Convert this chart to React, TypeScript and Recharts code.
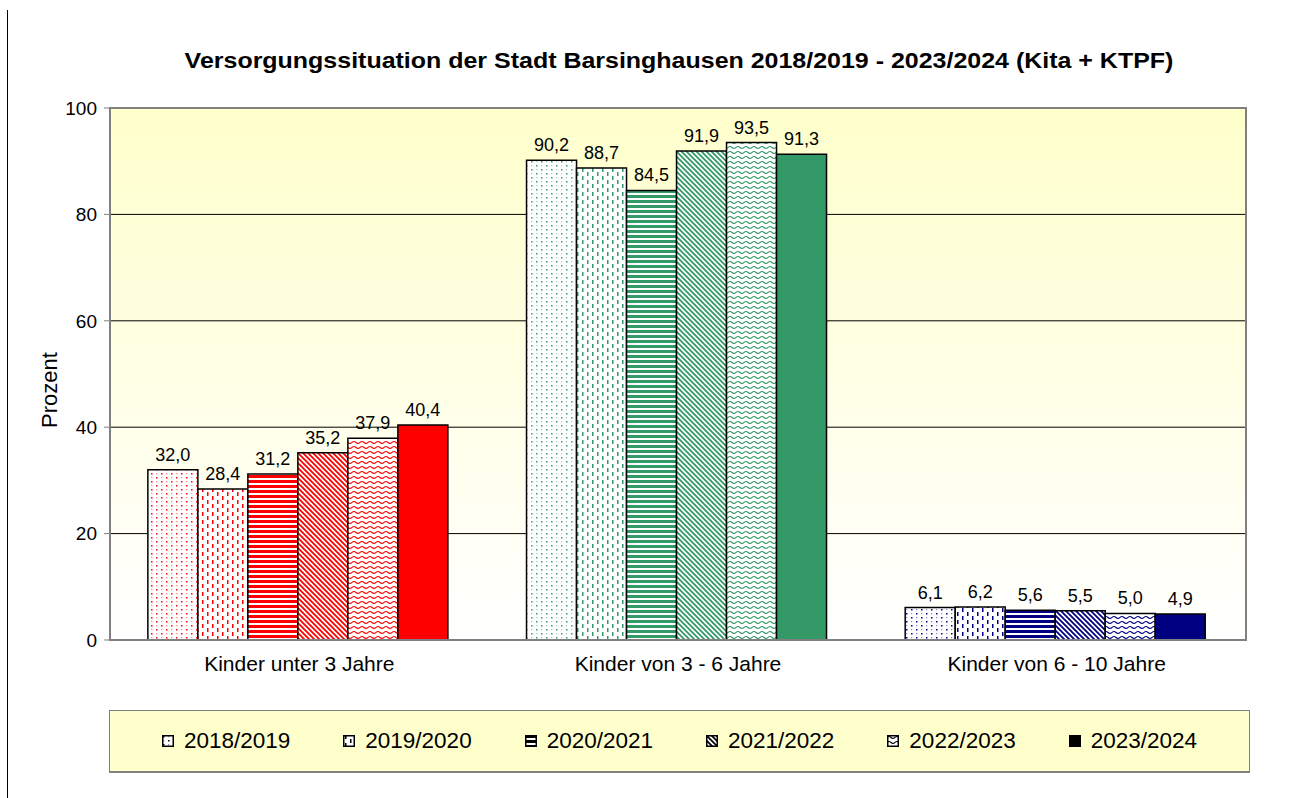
import { Bar, BarChart, CartesianGrid, Cell, LabelList, ReferenceArea, XAxis, YAxis } from "recharts";

const years = ["2018/2019", "2019/2020", "2020/2021", "2021/2022", "2022/2023", "2023/2024"];
const groups = ["Kinder unter 3 Jahre", "Kinder von 3 - 6 Jahre", "Kinder von 6 - 10 Jahre"];
const under3 = [32.0, 28.4, 31.2, 35.2, 37.9, 40.4];
const from3to6 = [90.2, 88.7, 84.5, 91.9, 93.5, 91.3];
const from6to10 = [6.1, 6.2, 5.6, 5.5, 5.0, 4.9];
const yTicks = [0, 20, 40, 60, 80, 100];

// one colour per age group, one fill pattern per school year
const groupColors = ["#ff0000", "#339966", "#000080"];
const yearPatterns = ["dots", "dashes", "hlines", "diag", "waves", "solid"];

const values = [under3, from3to6, from6to10];
const data = groups.map((name, i) => {
  const row: Record<string, string | number> = { name };
  years.forEach((_, j) => {
    row[`s${j}`] = values[i][j];
  });
  return row;
});

const FONT = "'Liberation Sans', Arial, sans-serif";

const fmt = (v: unknown) => Number(v).toFixed(1).replace(".", ",");

function PatternDef({ id, kind, color }: { id: string; kind: string; color: string }) {
  if (kind === "dots") {
    return (
      <pattern id={id} width={10} height={8} patternUnits="userSpaceOnUse">
        <rect width={10} height={8} fill="#fff" />
        <rect x={1} y={1} width={1.5} height={1.5} fill={color} />
        <rect x={6} y={5} width={1.5} height={1.5} fill={color} />
        <rect x={1} y={5} width={1.2} height={1.2} fill={color} opacity={0.45} />
        <rect x={6} y={1} width={1.2} height={1.2} fill={color} opacity={0.45} />
      </pattern>
    );
  }
  if (kind === "dashes") {
    return (
      <pattern id={id} width={10} height={8} patternUnits="userSpaceOnUse">
        <rect width={10} height={8} fill="#fff" />
        <rect x={2} y={0} width={1.5} height={4} fill={color} />
        <rect x={7} y={4} width={1.5} height={4} fill={color} />
      </pattern>
    );
  }
  if (kind === "hlines") {
    return (
      <pattern id={id} width={5} height={5} patternUnits="userSpaceOnUse">
        <rect width={5} height={5} fill="#fff" />
        <rect x={0} y={0} width={5} height={3} fill={color} />
      </pattern>
    );
  }
  if (kind === "diag") {
    return (
      <pattern id={id} width={5} height={5} patternUnits="userSpaceOnUse">
        <rect width={5} height={5} fill="#fff" />
        <path d="M-1,-1 L6,6 M-1,4 L1,6 M4,-1 L6,1" stroke={color} strokeWidth={1.8} />
      </pattern>
    );
  }
  if (kind === "waves") {
    return (
      <pattern id={id} width={8} height={5} patternUnits="userSpaceOnUse">
        <rect width={8} height={5} fill="#fff" />
        <path d="M0,2.5 Q2,0.5 4,2.5 T8,2.5" stroke={color} strokeWidth={1.1} fill="none" />
      </pattern>
    );
  }
  return (
    <pattern id={id} width={4} height={4} patternUnits="userSpaceOnUse">
      <rect width={4} height={4} fill={color} />
    </pattern>
  );
}

const fillId = (kind: string, gi: number | string) => `pat-${kind}-${gi}`;

export default function App() {
  return (
    <div style={{ position: "relative", width: 1290, height: 798, fontFamily: FONT, background: "#fff" }}>
      <style>{`body{margin:0}`}</style>
      <div style={{ position: "absolute", left: 7, top: 10, width: 1, height: 788, background: "#000" }} />
      <div
        style={{
          position: "absolute",
          left: 179,
          width: 1000,
          top: 48,
          textAlign: "center",
          fontSize: 22,
          fontWeight: "bold",
          color: "#000",
          whiteSpace: "nowrap",
          transform: "scaleX(1.135)",
        }}
      >
        Versorgungssituation der Stadt Barsinghausen 2018/2019 - 2023/2024 (Kita + KTPF)
      </div>
      <div
        style={{
          position: "absolute",
          left: 50,
          top: 390,
          transform: "translate(-50%, -50%) rotate(-90deg)",
          fontSize: 22,
          color: "#000",
          whiteSpace: "nowrap",
        }}
      >
        Prozent
      </div>

      <BarChart
        width={1290}
        height={798}
        data={data}
        margin={{ top: 108, right: 44, left: 0, bottom: 118 }}
        barCategoryGap="10%"
        barGap={0}
      >
        <defs>
          <linearGradient id="plotBg" x1="0" y1="0" x2="0" y2="1">
            <stop offset="0%" stopColor="#ffffcc" />
            <stop offset="100%" stopColor="#ffffff" />
          </linearGradient>
          {groupColors.map((c, gi) =>
            yearPatterns.map((k) => <PatternDef key={`${k}-${gi}`} id={fillId(k, gi)} kind={k} color={c} />)
          )}
        </defs>
        <CartesianGrid vertical={false} stroke="#000" fill="url(#plotBg)" fillOpacity={1} />
        <XAxis
          dataKey="name"
          axisLine={{ stroke: "#808080", strokeWidth: 2 }}
          tickLine={false}
          tick={{ fill: "#000", fontSize: 21, fontFamily: FONT }}
          tickMargin={10}
          height={40}
        />
        <YAxis
          domain={[0, 100]}
          ticks={yTicks}
          width={110}
          axisLine={{ stroke: "#808080", strokeWidth: 2 }}
          tickLine={{ stroke: "#808080" }}
          tickSize={6}
          tickMargin={7}
          tick={{ fill: "#000", fontSize: 19, fontFamily: FONT }}
        />
        <ReferenceArea y1={0} y2={100} fill="none" stroke="#808080" strokeWidth={2} />
        {years.map((year, j) => (
          <Bar key={year} dataKey={`s${j}`} name={year} stroke="#000" strokeWidth={1.5} isAnimationActive={false}>
            {data.map((_, gi) => (
              <Cell key={gi} fill={`url(#${fillId(yearPatterns[j], gi)})`} />
            ))}
            <LabelList
              dataKey={`s${j}`}
              position="top"
              offset={9}
              formatter={fmt}
              style={{ fill: "#000", fontSize: 18, fontFamily: FONT }}
            />
          </Bar>
        ))}
      </BarChart>

      <div
        style={{
          position: "absolute",
          left: 109,
          top: 710,
          width: 1139,
          height: 60,
          background: "#ffffcc",
          border: "1px solid #808080",
          borderBottom: "2px solid #808080",
          display: "flex",
          alignItems: "center",
          justifyContent: "center",
          gap: 53,
        }}
      >
        {years.map((year, j) => (
          <div key={year} style={{ display: "flex", alignItems: "center", gap: 10, fontSize: 22.5, color: "#000" }}>
            <svg width={12} height={12}>
              <defs>
                <PatternDef id={fillId(yearPatterns[j], "lg")} kind={yearPatterns[j]} color="#000" />
              </defs>
              <rect x={0.75} y={0.75} width={10.5} height={10.5} fill={`url(#${fillId(yearPatterns[j], "lg")})`} stroke="#000" strokeWidth={1.5} />
            </svg>
            <span>{year}</span>
          </div>
        ))}
      </div>
    </div>
  );
}
